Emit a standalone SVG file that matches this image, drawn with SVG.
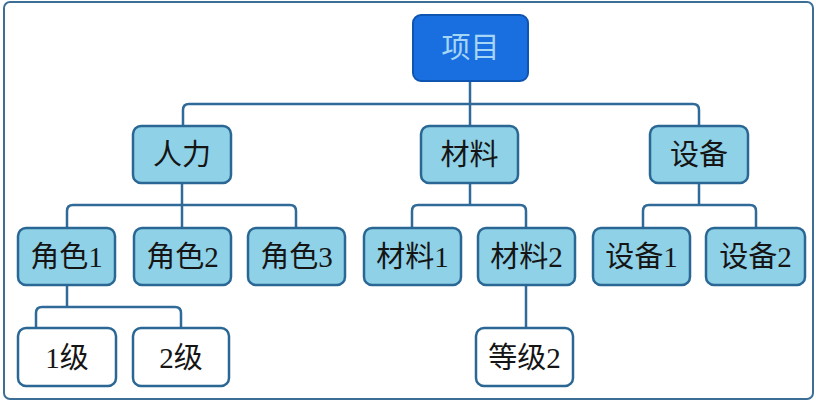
<svg xmlns="http://www.w3.org/2000/svg" width="816" height="403" viewBox="0 0 816 403">
<style>
.frame{fill:#ffffff;stroke:#3d6e96;stroke-width:2}
.root rect{fill:#1a6fe0;stroke:#0d55b0;stroke-width:2}
.mid rect{fill:#8fd1e7;stroke:#2a6794;stroke-width:2.5}
.leaf rect{fill:#ffffff;stroke:#2a6794;stroke-width:2.5}
text{font-family:"Liberation Serif","Noto Sans CJK SC",serif;font-size:29px;text-anchor:middle;fill:#151515}
.root text{fill:#a6d6f6}
#connectors path{fill:none;stroke:#2f6a98;stroke-width:2.5}
</style>
<rect class="frame" x="4" y="2" width="809" height="397" rx="6"/>
<g id="connectors">
<path d="M183,126 V110 Q183,104 189,104 H693 Q699,104 699,110 V126"/>
<path d="M470,81 V126"/>
<path d="M182,183 V228"/>
<path d="M67,228 V211 Q67,205 73,205 H290 Q296,205 296,211 V228"/>
<path d="M470,183 V205"/>
<path d="M412,228 V211 Q412,205 418,205 H520 Q526,205 526,211 V228"/>
<path d="M699,183 V205"/>
<path d="M643,228 V211 Q643,205 649,205 H750 Q756,205 756,211 V228"/>
<path d="M67,285 V307"/>
<path d="M36,328 V313 Q36,307 42,307 H175 Q181,307 181,313 V328"/>
<path d="M526,285 V328"/>
</g>
<g id="n-xiangmu" class="root"><rect x="413" y="15" width="115" height="66" rx="8"/><text x="470.5" y="58">项目</text></g>
<g id="n-renli" class="mid"><rect x="133" y="126" width="98" height="57" rx="8"/><text x="182" y="165">人力</text></g>
<g id="n-cailiao" class="mid"><rect x="421" y="126" width="97" height="57" rx="8"/><text x="469.5" y="165">材料</text></g>
<g id="n-shebei" class="mid"><rect x="650" y="126" width="98" height="57" rx="8"/><text x="699" y="165">设备</text></g>
<g id="n-juese1" class="mid"><rect x="18" y="228" width="97" height="57" rx="8"/><text x="66.5" y="267">角色1</text></g>
<g id="n-juese2" class="mid"><rect x="134" y="228" width="97" height="57" rx="8"/><text x="182.5" y="267">角色2</text></g>
<g id="n-juese3" class="mid"><rect x="248" y="228" width="97" height="57" rx="8"/><text x="296.5" y="267">角色3</text></g>
<g id="n-cailiao1" class="mid"><rect x="364" y="228" width="97" height="57" rx="8"/><text x="412.5" y="267">材料1</text></g>
<g id="n-cailiao2" class="mid"><rect x="478" y="228" width="97" height="57" rx="8"/><text x="526.5" y="267">材料2</text></g>
<g id="n-shebei1" class="mid"><rect x="593" y="228" width="97" height="57" rx="8"/><text x="641.5" y="267">设备1</text></g>
<g id="n-shebei2" class="mid"><rect x="706" y="228" width="99" height="57" rx="8"/><text x="755.5" y="267">设备2</text></g>
<g id="n-1ji" class="leaf"><rect x="18" y="328" width="98" height="58" rx="8"/><text x="67" y="368">1级</text></g>
<g id="n-2ji" class="leaf"><rect x="133" y="328" width="96" height="58" rx="8"/><text x="181" y="368">2级</text></g>
<g id="n-dengji2" class="leaf"><rect x="476" y="328" width="97" height="58" rx="8"/><text x="524.5" y="368">等级2</text></g>
</svg>
